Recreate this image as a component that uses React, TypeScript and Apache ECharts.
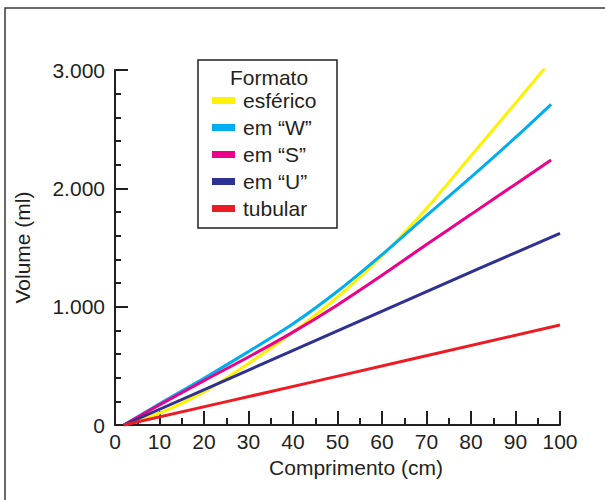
import React, { useEffect, useRef } from "react";
import * as echarts from "echarts";

// Data
const xEsferico = [2, 10, 20, 30, 40, 50, 60, 70, 80, 90, 97];
const esferico = [0, 100, 280, 520, 785, 1080, 1430, 1830, 2275, 2720, 3035];

const xW = [2, 10, 20, 30, 40, 50, 60, 70, 80, 90, 98];
const emW = [0, 180, 395, 620, 855, 1130, 1440, 1770, 2095, 2430, 2710];

const xS = [2, 10, 20, 30, 40, 50, 60, 70, 80, 90, 98];
const emS = [0, 170, 375, 575, 785, 1015, 1265, 1525, 1780, 2035, 2240];

const xU = [2, 44, 82, 100];
const emU = [0, 696, 1325, 1620];

const xTub = [2, 44, 100];
const tubular = [0, 360, 845];

const seriesNames = ["esférico", "em \u201cW\u201d", "em \u201cS\u201d", "em \u201cU\u201d", "tubular"];
const seriesColors = ["#fff200", "#00aeef", "#ec008c", "#2e3192", "#ed1c24"];

const legendTitle = "Formato";
const xName = "Comprimento (cm)";
const yName = "Volume (ml)";

const FONT = "Liberation Sans";
const TXT = "#231f20";

function pairs(xs: number[], ys: number[]) {
  return xs.map((x, i) => [x, ys[i]]);
}

export default function App() {
  const ref = useRef<HTMLDivElement>(null);
  useEffect(() => {
    if (!ref.current) return;
    const chart = echarts.init(ref.current, undefined, { renderer: "svg" });
    const data = [
      pairs(xEsferico, esferico),
      pairs(xW, emW),
      pairs(xS, emS),
      pairs(xU, emU),
      pairs(xTub, tubular),
    ];
    chart.setOption({
      animation: false,
      backgroundColor: "#ffffff",
      textStyle: { fontFamily: FONT, color: TXT },
      grid: { left: 115, right: 45, top: 70, bottom: 75, containLabel: false },
      graphic: [
        {
          type: "rect",
          shape: { x: 5, y: 8, width: 700, height: 600 },
          style: { fill: "none", stroke: "#3a3a3a", lineWidth: 1.5 },
          silent: true,
        },
        {
          type: "rect",
          shape: { x: 198, y: 60, width: 139, height: 168 },
          style: { fill: "#ffffff", stroke: TXT, lineWidth: 1.5 },
          silent: true,
        },
        {
          type: "text",
          x: 269,
          y: 77,
          style: {
            text: legendTitle,
            fontFamily: FONT,
            fontSize: 21,
            fill: TXT,
            textAlign: "center",
            textVerticalAlign: "middle",
          },
          silent: true,
        },
      ],
      legend: {
        orient: "vertical",
        left: 212,
        top: 90,
        padding: 0,
        itemWidth: 23,
        itemHeight: 7,
        itemGap: 6,
        icon: "rect",
        data: seriesNames,
        textStyle: { fontFamily: FONT, fontSize: 21, color: TXT, padding: [0, 0, 0, 3] },
      },
      xAxis: {
        type: "value",
        min: 0,
        max: 100,
        interval: 10,
        name: xName,
        nameLocation: "middle",
        nameGap: 31,
        nameTextStyle: { fontFamily: FONT, fontSize: 21, color: TXT, padding: [0, 0, 0, 37] },
        axisLine: { lineStyle: { color: TXT, width: 2 } },
        axisTick: { show: true, inside: true, length: 14, lineStyle: { color: TXT, width: 2 } },
        minorTick: { show: true, splitNumber: 2, length: 7, lineStyle: { color: TXT, width: 2 } },
        axisLabel: { fontFamily: FONT, fontSize: 21, color: TXT, margin: 6 },
        splitLine: { show: false },
      },
      yAxis: {
        type: "value",
        min: 0,
        max: 3000,
        interval: 1000,
        name: yName,
        nameLocation: "middle",
        nameGap: 82,
        nameTextStyle: { fontFamily: FONT, fontSize: 21, color: TXT },
        axisLine: { show: true, lineStyle: { color: TXT, width: 2 } },
        axisTick: { show: true, inside: true, length: 13, lineStyle: { color: TXT, width: 2 } },
        minorTick: { show: true, splitNumber: 5, length: 6, lineStyle: { color: TXT, width: 2 } },
        axisLabel: {
          fontFamily: FONT,
          fontSize: 21,
          color: TXT,
          margin: 10,
          formatter: (v: number) => (v === 0 ? "0" : `${Math.round(v / 1000)}.000`),
        },
        splitLine: { show: false },
      },
      series: data.map((d, i) => ({
        name: seriesNames[i],
        type: "line",
        data: d,
        smooth: 0.3,
        symbol: "none",
        color: seriesColors[i],
        lineStyle: { width: 3, color: seriesColors[i] },
        z: 2 + i,
      })),
    });
    return () => chart.dispose();
  }, []);
  return (
    <div
      ref={ref}
      style={{ position: "fixed", left: 0, top: 0, width: 605, height: 500, background: "#fff" }}
    />
  );
}
